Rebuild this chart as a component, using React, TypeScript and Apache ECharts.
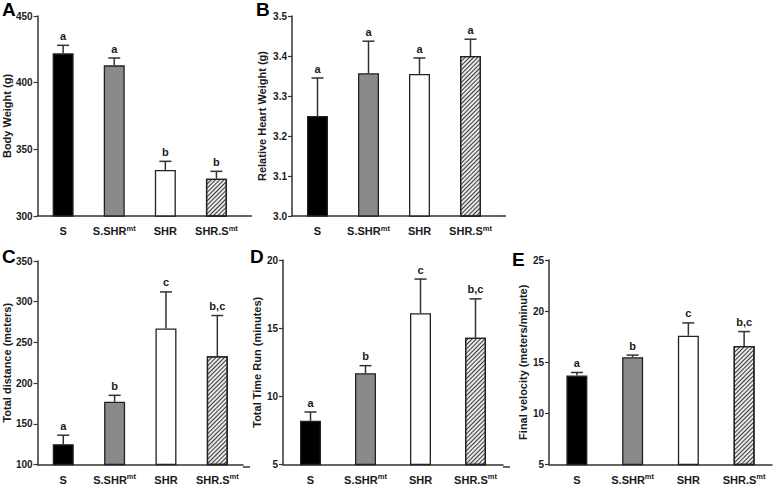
import React, { useEffect, useRef } from "react";
import * as echarts from "echarts";

// ---- data ----
const categories = ["S", "S.SHR", "SHR", "SHR.S"];
const categorySup = ["", "mt", "", "mt"];

const bodyWeight = [422, 413, 334.5, 328];
const bodyWeightSem = [6, 5.5, 6.5, 5.5];
const bodyWeightLetters = ["a", "a", "b", "b"];

const heartWeight = [3.25, 3.357, 3.355, 3.4];
const heartWeightSem = [0.095, 0.08, 0.04, 0.042];
const heartWeightLetters = ["a", "a", "a", "a"];

const totalDistance = [125, 177, 267, 233];
const totalDistanceSem = [11, 8, 45, 50];
const totalDistanceLetters = ["a", "b", "c", "b,c"];

const totalTime = [8.2, 11.7, 16.1, 14.3];
const totalTimeSem = [0.65, 0.55, 2.5, 2.85];
const totalTimeLetters = ["a", "b", "c", "b,c"];

const finalVelocity = [13.7, 15.5, 17.6, 16.6];
const finalVelocitySem = [0.3, 0.2, 1.25, 1.4];
const finalVelocityLetters = ["a", "b", "c", "b,c"];

const FONT = "Liberation Sans, Arial, sans-serif";
const AXIS_COLOR = "#333";
const TEXT_COLOR = "#1a1a1a";

const hatchDecal = {
  symbol: "rect",
  symbolSize: 1,
  color: "#3a3a3a",
  dashArrayX: [1, 0],
  dashArrayY: [1, 1.1],
  rotation: -Math.PI / 4,
};

const barStyles = [
  { color: "#000", borderColor: "#222", borderWidth: 1.3 },
  { color: "#8a8a8a", borderColor: "#222", borderWidth: 1.3 },
  { color: "#fff", borderColor: "#222", borderWidth: 1.3 },
  { color: "#e8e8e8", borderColor: "#222", borderWidth: 1.3, decal: hatchDecal },
];

type Panel = {
  values: number[];
  sem: number[];
  letters: string[];
  title: string;
  min: number;
  max: number;
  interval: number;
  decimals: number;
  grid: { left: number; top: number; width: number; height: number };
  nameGap: number;
};

const panels: Panel[] = [
  {
    values: bodyWeight, sem: bodyWeightSem, letters: bodyWeightLetters,
    title: "Body Weight (g)", min: 300, max: 450, interval: 50, decimals: 0,
    grid: { left: 37, top: 16, width: 205, height: 200 }, nameGap: 22,
  },
  {
    values: heartWeight, sem: heartWeightSem, letters: heartWeightLetters,
    title: "Relative Heart Weight (g)", min: 3.0, max: 3.5, interval: 0.1, decimals: 1,
    grid: { left: 292, top: 16, width: 204, height: 200 }, nameGap: 25,
  },
  {
    values: totalDistance, sem: totalDistanceSem, letters: totalDistanceLetters,
    title: "Total distance (meters)", min: 100, max: 350, interval: 50, decimals: 0,
    grid: { left: 33, top: 261, width: 210, height: 206 }, nameGap: 23,
  },
  {
    values: totalTime, sem: totalTimeSem, letters: totalTimeLetters,
    title: "Total Time Run (minutes)", min: 5, max: 20, interval: 5, decimals: 0,
    grid: { left: 283, top: 260, width: 220, height: 207 }, nameGap: 18,
  },
  {
    values: finalVelocity, sem: finalVelocitySem, letters: finalVelocityLetters,
    title: "Final velocity (meters/minute)", min: 5, max: 25, interval: 5, decimals: 0,
    grid: { left: 549, top: 260, width: 223, height: 207 }, nameGap: 21,
  },
];

const panelLetters = [
  { text: "A", left: 2, top: 0 },
  { text: "B", left: 256, top: 0 },
  { text: "C", left: 2, top: 247 },
  { text: "D", left: 250, top: 247 },
  { text: "E", left: 512, top: 250 },
];

// x-axis line overhangs past last category (Prism style)
const axisOverhangs = [
  { x1: 242, x2: 252, y: 216 },
  { x1: 496, x2: 506, y: 216 },
  { x1: 243, x2: 250, y: 467 },
  { x1: 503, x2: 510, y: 467 },
];

function buildOption() {
  const grid: any[] = [];
  const xAxis: any[] = [];
  const yAxis: any[] = [];
  const series: any[] = [];

  panels.forEach((p, i) => {
    grid.push({ ...p.grid, containLabel: false });
    xAxis.push({
      type: "category",
      gridIndex: i,
      data: categories,
      axisLine: { lineStyle: { color: AXIS_COLOR, width: 1.5 } },
      axisTick: { alignWithLabel: true, length: 3, lineStyle: { color: AXIS_COLOR, width: 1.2 } },
      axisLabel: {
        margin: 8,
        interval: 0,
        formatter: (value: string, idx: number) =>
          categorySup[idx] ? `{m|${value}}{s|${categorySup[idx]}}` : `{m|${value}}`,
        rich: {
          m: { fontFamily: FONT, fontWeight: "bold", fontSize: 11, color: TEXT_COLOR, lineHeight: 14 },
          s: { fontFamily: FONT, fontWeight: "bold", fontSize: 7.5, color: TEXT_COLOR, lineHeight: 9, verticalAlign: "top" },
        },
      },
    });
    yAxis.push({
      type: "value",
      gridIndex: i,
      min: p.min,
      max: p.max,
      interval: p.interval,
      name: p.title,
      nameLocation: "middle",
      nameGap: p.nameGap,
      nameRotate: 90,
      nameTextStyle: { fontFamily: FONT, fontWeight: "bold", fontSize: 11, color: TEXT_COLOR },
      splitLine: { show: false },
      axisLine: { show: true, lineStyle: { color: AXIS_COLOR, width: 1.5 } },
      axisTick: { show: true, length: 4, lineStyle: { color: AXIS_COLOR, width: 1.2 } },
      axisLabel: {
        margin: 5,
        fontFamily: FONT,
        fontWeight: "bold",
        fontSize: 10,
        color: TEXT_COLOR,
        formatter: (v: number) => v.toFixed(p.decimals),
      },
    });
    series.push({
      type: "bar",
      xAxisIndex: i,
      yAxisIndex: i,
      barWidth: 21,
      data: p.values.map((v, k) => ({ value: v, itemStyle: barStyles[k] })),
      z: 2,
    });
    series.push({
      type: "custom",
      xAxisIndex: i,
      yAxisIndex: i,
      z: 3,
      data: p.values.map((v, k) => [k, v, p.sem[k]]),
      encode: { x: 0, y: 1 },
      renderItem: (params: any, api: any) => {
        const x = api.value(0);
        const v = api.value(1);
        const e = api.value(2);
        const p0 = api.coord([x, v]);
        const p1 = api.coord([x, v + e]);
        const cap = 6;
        return {
          type: "group",
          children: [
            {
              type: "line",
              shape: { x1: p0[0], y1: p0[1], x2: p1[0], y2: p1[1] },
              style: { stroke: AXIS_COLOR, lineWidth: 1.5 },
            },
            {
              type: "line",
              shape: { x1: p1[0] - cap, y1: p1[1], x2: p1[0] + cap, y2: p1[1] },
              style: { stroke: AXIS_COLOR, lineWidth: 1.5 },
            },
            {
              type: "text",
              x: p1[0],
              y: p1[1] - 4,
              style: {
                text: p.letters[params.dataIndex],
                align: "center",
                verticalAlign: "bottom",
                fontFamily: FONT,
                fontWeight: "bold",
                fontSize: 11,
                fill: TEXT_COLOR,
              },
            },
          ],
        };
      },
    });
  });

  const graphic: any[] = [
    ...panelLetters.map((l) => ({
      type: "text",
      left: l.left,
      top: l.top,
      style: { text: l.text, fontFamily: FONT, fontWeight: "bold", fontSize: 19, fill: "#000" },
    })),
    ...axisOverhangs.map((o) => ({
      type: "line",
      shape: { x1: o.x1, y1: o.y, x2: o.x2, y2: o.y },
      style: { stroke: AXIS_COLOR, lineWidth: 1.5 },
    })),
  ];

  return {
    animation: false,
    backgroundColor: "#fff",
    grid,
    xAxis,
    yAxis,
    series,
    graphic,
  };
}

export default function App() {
  const ref = useRef<HTMLDivElement>(null);
  useEffect(() => {
    if (!ref.current) return;
    const chart = echarts.init(ref.current, undefined, { renderer: "svg" });
    chart.setOption(buildOption() as any);
    return () => chart.dispose();
  }, []);
  return (
    <div
      ref={ref}
      style={{ width: 773, height: 485, position: "absolute", left: 0, top: 0 }}
    />
  );
}
